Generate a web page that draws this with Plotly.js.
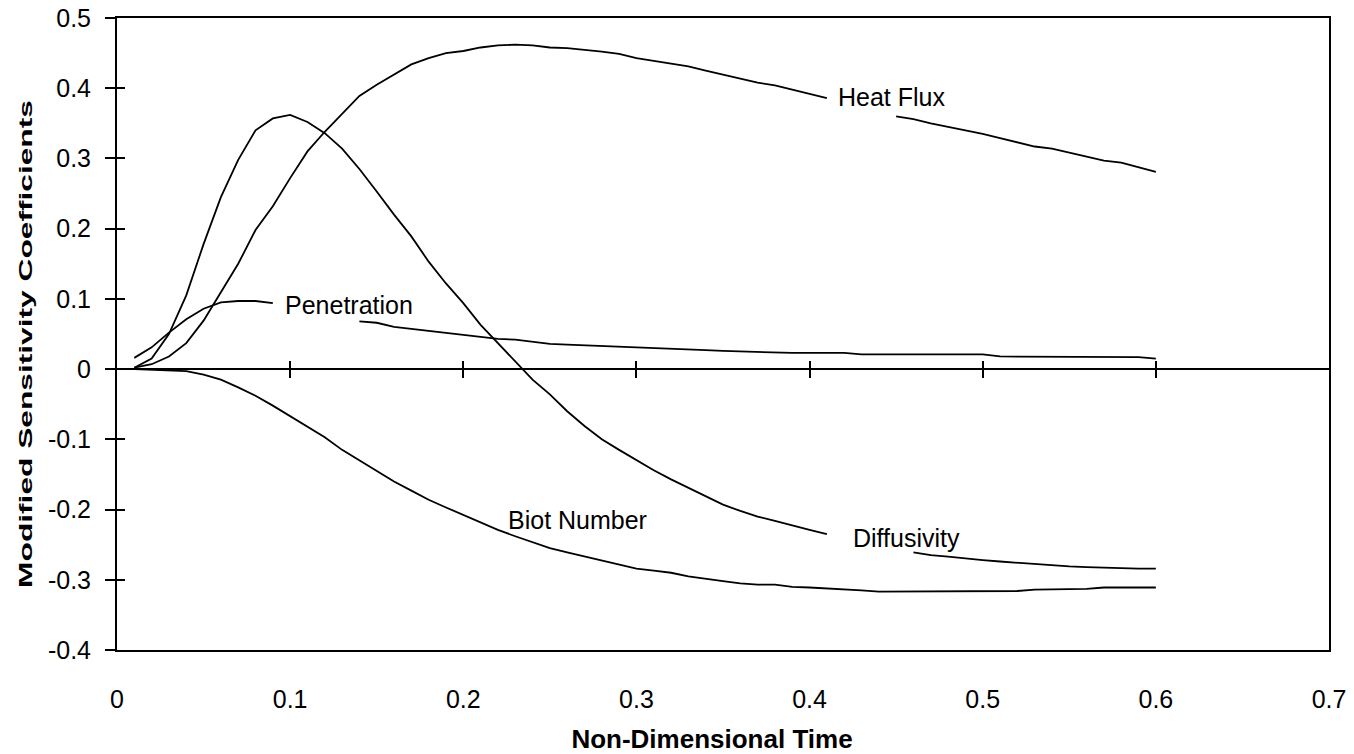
<!DOCTYPE html>
<html>
<head>
<meta charset="utf-8">
<script src="https://cdn.plot.ly/plotly-3.0.1.min.js"></script>
<style>html,body{margin:0;padding:0;background:#fff;}#chart{width:1354px;height:754px;}</style>
</head>
<body>
<div id="chart"></div>
<script>
// Non-dimensional time
const time = [0.01,0.02,0.03,0.04,0.05,0.06,0.07,0.08,0.09,0.10,
              0.11,0.12,0.13,0.14,0.15,0.16,0.17,0.18,0.19,0.20,
              0.21,0.22,0.23,0.24,0.25,0.26,0.27,0.28,0.29,0.30,
              0.31,0.32,0.33,0.34,0.35,0.36,0.37,0.38,0.39,0.40,
              0.41,0.42,0.43,0.44,0.45,0.46,0.47,0.48,0.49,0.50,
              0.51,0.52,0.53,0.54,0.55,0.56,0.57,0.58,0.59,0.60];

// null = hidden under the curve label
const heatFlux = [0.002,0.007,0.018,0.037,0.069,0.109,0.150,0.198,0.232,0.272,
                  0.310,0.338,0.364,0.389,0.405,0.420,0.434,0.443,0.450,0.453,
                  0.458,0.461,0.462,0.461,0.458,0.457,0.455,0.452,0.449,0.443,
                  0.439,0.435,0.431,0.425,0.419,0.413,0.408,0.404,0.398,0.391,
                  0.386,null,null,null,0.360,0.356,0.350,0.345,0.341,0.335,
                  0.329,0.323,0.317,0.314,0.308,0.302,0.297,0.294,0.288,0.281];

const diffusivity = [0.002,0.015,0.050,0.105,0.178,0.245,0.298,0.340,0.357,0.362,
                     0.352,0.336,0.314,0.285,0.253,0.220,0.189,0.153,0.122,0.094,
                     0.063,0.037,0.010,-0.015,-0.036,-0.060,-0.081,-0.100,-0.115,-0.130,
                     -0.144,-0.157,-0.169,-0.181,-0.193,-0.202,-0.210,-0.216,-0.223,-0.229,
                     -0.235,null,null,null,null,-0.261,-0.265,-0.267,-0.270,-0.272,
                     -0.274,-0.276,-0.277,-0.279,-0.281,-0.282,-0.283,-0.284,-0.284,-0.284];

const penetration = [0.016,0.031,0.052,0.071,0.086,0.095,0.097,0.097,0.094,null,
                     null,null,null,0.068,0.066,0.060,0.057,0.054,0.051,0.048,
                     0.045,0.043,0.042,0.039,0.036,0.035,0.034,0.032,0.031,0.030,
                     0.029,0.028,0.028,0.027,0.026,0.025,0.024,0.023,0.023,0.023,
                     0.023,0.023,0.021,0.021,0.021,0.021,0.021,0.021,0.021,0.021,
                     0.018,0.018,0.018,0.018,0.018,0.018,0.018,0.018,0.017,0.015];

const biotNumber = [0.000,-0.001,-0.003,-0.003,-0.008,-0.015,-0.026,-0.038,-0.052,-0.067,
                    -0.082,-0.097,-0.115,-0.130,-0.145,-0.160,-0.173,-0.186,-0.197,-0.208,
                    -0.219,-0.229,-0.238,-0.247,-0.255,-0.261,-0.267,-0.273,-0.279,-0.284,
                    -0.287,-0.290,-0.295,-0.299,-0.302,-0.305,-0.307,-0.307,-0.310,-0.311,
                    -0.312,-0.314,-0.315,-0.317,-0.317,-0.317,-0.317,-0.317,-0.317,-0.317,
                    -0.317,-0.316,-0.314,-0.314,-0.314,-0.313,-0.311,-0.311,-0.311,-0.311];

const seriesNames = ["Heat Flux","Diffusivity","Penetration","Biot Number"];
const xTickVals = [0,0.1,0.2,0.3,0.4,0.5,0.6,0.7];
const xTickText = ["0","0.1","0.2","0.3","0.4","0.5","0.6","0.7"];
const yTickVals = [-0.4,-0.3,-0.2,-0.1,0,0.1,0.2,0.3,0.4,0.5];
const yTickText = ["-0.4","-0.3","-0.2","-0.1","0","0.1","0.2","0.3","0.4","0.5"];

const FONT = 'Arial, "Liberation Sans", Helvetica, sans-serif';
const seriesData = [heatFlux, diffusivity, penetration, biotNumber];

const traces = seriesData.map((vals, i) => ({
  type: 'scatter', mode: 'lines', x: time, y: vals, name: seriesNames[i],
  line: {color: '#000', width: 1.8}, connectgaps: false, hoverinfo: 'x+y+name'
}));
// empty traces so that the helper axes (cross ticks) are drawn
traces.push({type:'scatter', mode:'lines', x:[], y:[], xaxis:'x2', yaxis:'y', showlegend:false, hoverinfo:'skip'});
traces.push({type:'scatter', mode:'lines', x:[], y:[], xaxis:'x3', yaxis:'y', showlegend:false, hoverinfo:'skip'});
traces.push({type:'scatter', mode:'lines', x:[], y:[], xaxis:'x', yaxis:'y2', showlegend:false, hoverinfo:'skip'});

const zeroPos = (0 - (-0.4)) / (0.5 - (-0.4));

const labelFont = {family: FONT, size: 25, color: '#000'};
const annotations = [
  {x: 0.134, y: 0.091, text: seriesNames[2]},
  {x: 0.4474, y: 0.3875, text: seriesNames[0]},
  {x: 0.4560, y: -0.240, text: seriesNames[1]},
  {x: 0.2658, y: -0.2144, text: seriesNames[3]}
].map(a => Object.assign({xref:'x', yref:'y', showarrow:false, xanchor:'center', yanchor:'middle', font: labelFont}, a));

const layout = {
  width: 1354, height: 754,
  margin: {l: 117, r: 25, t: 18, b: 104, pad: 0},
  paper_bgcolor: '#fff', plot_bgcolor: '#fff',
  showlegend: false,
  font: {family: FONT, color: '#000'},
  xaxis: {
    range: [0, 0.7], tickmode: 'array', tickvals: xTickVals, ticktext: xTickText,
    ticks: '', showgrid: false, zeroline: false,
    showline: true, linecolor: '#000', linewidth: 2, mirror: true,
    tickfont: {family: FONT, size: 25, color: '#000'},
    ticklabelstandoff: 26,
    title: {text: 'Non-Dimensional Time', font: {family: FONT, size: 26, color: '#000', weight: 'bold'}, standoff: 21}
  },
  xaxis2: {
    range: [0, 0.7], overlaying: 'x', anchor: 'free', position: zeroPos,
    tickmode: 'array', tickvals: [0.1,0.2,0.3,0.4,0.5,0.6], ticks: 'outside', ticklen: 8, tickwidth: 2, tickcolor: '#000',
    showticklabels: false, showline: false, showgrid: false, zeroline: false
  },
  xaxis3: {
    range: [0, 0.7], overlaying: 'x', anchor: 'free', position: zeroPos,
    tickmode: 'array', tickvals: [0.1,0.2,0.3,0.4,0.5,0.6], ticks: 'inside', ticklen: 8, tickwidth: 2, tickcolor: '#000',
    showticklabels: false, showline: false, showgrid: false, zeroline: false
  },
  yaxis: {
    range: [-0.4, 0.5], tickmode: 'array', tickvals: yTickVals, ticktext: yTickText,
    ticks: 'outside', ticklen: 10, tickwidth: 2, tickcolor: '#000',
    showgrid: false, zeroline: true, zerolinecolor: '#000', zerolinewidth: 2,
    showline: true, linecolor: '#000', linewidth: 2, mirror: true,
    tickfont: {family: FONT, size: 25, color: '#000'},
    ticklabelstandoff: 9,
    title: {text: 'Modified Sensitivity Coefficients', font: {family: FONT, size: 19, color: '#000', weight: 'bold'}, standoff: 10}
  },
  yaxis2: {
    range: [-0.4, 0.5], overlaying: 'y', side: 'left', anchor: 'x',
    tickmode: 'array', tickvals: yTickVals, ticks: 'inside', ticklen: 8, tickwidth: 2, tickcolor: '#000',
    showticklabels: false, showline: false, showgrid: false, zeroline: false
  },
  annotations: annotations
};

Plotly.newPlot('chart', traces, layout, {displayModeBar: false, staticPlot: true}).then(gd => {
  // the reference draws the vertical axis title stretched along its length
  const yt = gd.querySelector('.ytitle');
  if (yt) {
    const x = +yt.getAttribute('x');
    const y = +yt.getAttribute('y') + 10;
    yt.setAttribute('y', y);
    let len = 0;
    try { len = yt.getComputedTextLength(); } catch (e) { len = 0; }
    const k = len > 0 ? 488 / len : 1.65;
    yt.setAttribute('transform',
      'rotate(-90,' + x + ',' + y + ') translate(' + x + ',' + y + ') scale(' + k + ',1) translate(' + (-x) + ',' + (-y) + ')');
  }
  const xt = gd.querySelector('.xtitle');
  if (xt) {
    xt.setAttribute('x', +xt.getAttribute('x') - 11);
  }
});
</script>
</body>
</html>
